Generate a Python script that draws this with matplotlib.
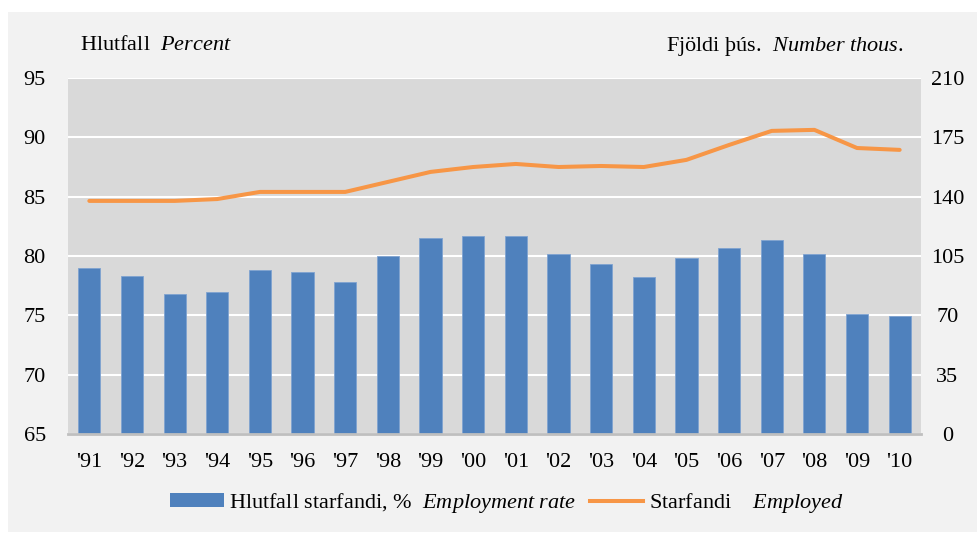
import matplotlib.pyplot as plt
from matplotlib.patches import Rectangle
from matplotlib.lines import Line2D
from matplotlib.patches import Patch

plt.rcParams['font.family'] = ['Liberation Serif', 'DejaVu Serif']
plt.rcParams['mathtext.fontset'] = 'custom'
plt.rcParams['mathtext.rm'] = 'Liberation Serif'
plt.rcParams['mathtext.it'] = 'Liberation Serif:italic'

# Data
years = ["'91", "'92", "'93", "'94", "'95", "'96", "'97", "'98", "'99", "'00",
         "'01", "'02", "'03", "'04", "'05", "'06", "'07", "'08", "'09", "'10"]
employment_rate = [79.0, 78.3, 76.8, 77.0, 78.8, 78.65, 77.8, 80.0, 81.5, 81.7,
                   81.7, 80.2, 79.3, 78.2, 79.8, 80.7, 81.35, 80.2, 75.1, 74.95]
employed = [137.5, 137.5, 137.5, 138.6, 142.8, 142.8, 142.8, 148.7, 154.6, 157.5,
            159.3, 157.5, 158.1, 157.5, 161.7, 170.5, 178.8, 179.4, 168.7, 167.6]
left_ticks = [65, 70, 75, 80, 85, 90, 95]
right_ticks = [0, 35, 70, 105, 140, 175, 210]

blue = '#4f81bd'
orange = '#f79646'
fs = 16

fig = plt.figure(figsize=(9.78, 5.34), dpi=100, facecolor='white')
# light gray chart panel
fig.patches.append(Rectangle((8 / 978, 2 / 534), 970 / 978, 520 / 534,
                             transform=fig.transFigure, facecolor='#f2f2f2',
                             edgecolor='none', zorder=-10))

ax = fig.add_axes([68 / 978, 100 / 534, 853 / 978, 356 / 534])
ax.set_facecolor('#d9d9d9')
x = list(range(len(years)))
ax.bar(x, employment_rate, width=0.52, color=blue, edgecolor='#7fa3d1',
       linewidth=0.6, zorder=3)
ax.set_ylim(65, 95)
ax.set_xlim(-0.5, len(years) - 0.5)
ax.set_yticks(left_ticks)
ax.set_xticks(x)
ax.set_xticklabels(years)
ax.grid(axis='y', color='white', linewidth=1.5, zorder=0)
ax.set_axisbelow(True)
for s in ['top', 'right', 'left']:
    ax.spines[s].set_visible(False)
ax.spines['bottom'].set_color('#bfbfbf')
ax.spines['bottom'].set_linewidth(2)
ax.spines['bottom'].set_zorder(5)
ax.tick_params(axis='both', length=0, labelsize=fs)
ax.tick_params(axis='y', pad=16)
ax.tick_params(axis='x', pad=14)

ax2 = ax.twinx()
ax2.plot(x, employed, color=orange, linewidth=2.9, solid_capstyle='round', zorder=4)
ax2.set_ylim(0, 210)
ax2.set_yticks(right_ticks)
ax2.tick_params(axis='y', length=0, labelsize=fs, pad=19)
for lbl in ax2.get_yticklabels():
    lbl.set_horizontalalignment('center')
for s in ax2.spines.values():
    s.set_visible(False)

fig.text(80 / 978, 1 - 46 / 534, r'Hlutfall  $\mathit{Percent}$', fontsize=fs,
         ha='left', va='center')
fig.text(904 / 978, 1 - 46 / 534, r'Fjöldi þús.  $\mathit{Number\ thous.}$',
         fontsize=fs, ha='right', va='center')

handles = [Patch(facecolor=blue, edgecolor='none'),
           Line2D([0], [0], color=orange, linewidth=2.9)]
labels = [r'Hlutfall starfandi, %  $\mathit{Employment\ rate}$',
          r'Starfandi    $\mathit{Employed}$']
fig.legend(handles, labels, loc='center', bbox_to_anchor=(507 / 978, 1 - 503 / 534),
           ncol=2, frameon=False, fontsize=fs, handlelength=2.4, handleheight=0.6,
           handletextpad=0.25, columnspacing=0.6)

fig.savefig('out.png', dpi=100, facecolor=fig.get_facecolor())
